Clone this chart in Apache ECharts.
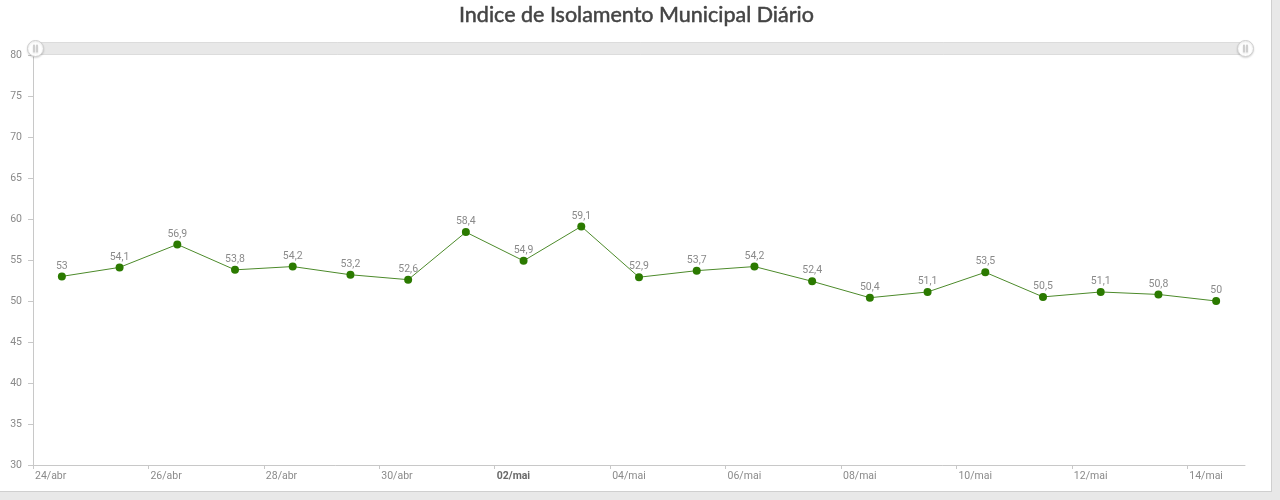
<!DOCTYPE html>
<html>
<head>
<meta charset="utf-8">
<script src="https://cdn.jsdelivr.net/npm/echarts@6/dist/echarts.min.js"></script>
<style>
  html, body { margin: 0; padding: 0; background: #e8e8e8; }
  #chart { width: 1271px; height: 491px; background: #fff; border-right: 1px solid #cfcfcf; border-bottom: 1px solid #cfcfcf; }
</style>
</head>
<body>
<div id="chart"></div>
<script>
var dias = ['24/abr', '25/abr', '26/abr', '27/abr', '28/abr', '29/abr', '30/abr',
    '01/mai', '02/mai', '03/mai', '04/mai', '05/mai', '06/mai', '07/mai',
    '08/mai', '09/mai', '10/mai', '11/mai', '12/mai', '13/mai', '14/mai'];
var indice = [53, 54.1, 56.9, 53.8, 54.2, 53.2, 52.6, 58.4, 54.9, 59.1, 52.9,
    53.7, 54.2, 52.4, 50.4, 51.1, 53.5, 50.5, 51.1, 50.8, 50];
var eixoY = [30, 80, 5];   // min, max, intervalo

var myChart = echarts.init(document.getElementById('chart'));

// cada ponto fica no meio do dia
var pontos = indice.map(function (v, i) {
    return [i + 0.5, v];
});

var option = {
    animation: false,
    title: {
        text: 'Indice de Isolamento Municipal Diário',
        left: 454,
        top: -1,
        textStyle: {
            fontFamily: 'Lato',
            fontSize: 21.5,
            fontWeight: 'normal',
            color: '#444',
            textBorderColor: '#444',
            textBorderWidth: 0.5
        }
    },
    grid: {
        left: 33,
        right: 26,
        top: 55,
        bottom: 26
    },
    dataZoom: [
        {
            type: 'slider',
            xAxisIndex: 0,
            top: 42,
            height: 13,
            left: 33,
            right: 26,
            start: 0,
            end: 100,
            showDataShadow: false,
            showDetail: false,
            brushSelect: false,
            moveHandleSize: 0,
            backgroundColor: '#e8e8e8',
            fillerColor: '#e8e8e8',
            borderColor: '#dcdcdc',
            handleIcon: 'path://M10,0A10,10,0,1,1,10,20A10,10,0,1,1,10,0Z M7.6,5.5V14.5H8.6V5.5Z M11.4,5.5V14.5H12.4V5.5Z',
            handleSize: 16,
            handleStyle: {
                color: '#fff',
                borderColor: '#cfcfcf',
                borderWidth: 1,
                shadowBlur: 2,
                shadowColor: 'rgba(0,0,0,0.15)',
                shadowOffsetY: 1
            },
            emphasis: {
                handleStyle: { color: '#fff', borderColor: '#cfcfcf' }
            }
        }
    ],
    xAxis: {
        type: 'value',
        min: 0,
        max: dias.length,
        interval: 2,
        axisLine: { lineStyle: { color: '#c8c8c8' } },
        axisTick: { length: 4, lineStyle: { color: '#c8c8c8' } },
        splitLine: { show: false },
        axisLabel: {
            showMaxLabel: false,
            align: 'left',
            margin: 6,
            padding: [0, 0, 0, 2],
            color: '#8a8a8a',
            fontSize: 10.5,
            fontFamily: 'Roboto',
            formatter: function (v) {
                var d = dias[v] || '';
                return d === '02/mai' ? '{b|' + d + '}' : d;
            },
            rich: {
                b: { fontWeight: 'bold', color: '#6a6a6a', fontSize: 10.5, fontFamily: 'Roboto' }
            }
        }
    },
    yAxis: {
        type: 'value',
        min: eixoY[0],
        max: eixoY[1],
        interval: eixoY[2],
        axisLine: { show: true, lineStyle: { color: '#c8c8c8' } },
        axisTick: { show: true, length: 5, lineStyle: { color: '#c8c8c8' } },
        splitLine: { show: false },
        axisLabel: {
            margin: 11,
            color: '#8a8a8a',
            fontSize: 10.5,
            fontFamily: 'Roboto'
        }
    },
    series: [
        {
            name: 'Indice',
            type: 'line',
            data: pontos,
            symbol: 'circle',
            symbolSize: 8,
            itemStyle: { color: '#2b7a00' },
            lineStyle: { color: '#4c8a2a', width: 1 },
            label: {
                show: true,
                position: 'top',
                distance: 1,
                color: '#8a8a8a',
                fontSize: 10.5,
                fontFamily: 'Roboto',
                formatter: function (p) {
                    return String(p.value[1]).replace('.', ',');
                }
            }
        }
    ]
};

myChart.setOption(option);
</script>
</body>
</html>
